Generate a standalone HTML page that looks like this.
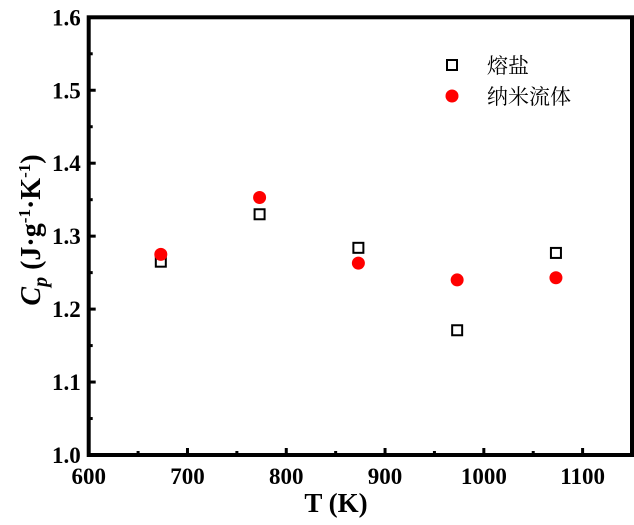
<!DOCTYPE html>
<html><head><meta charset="utf-8"><style>
body{margin:0;background:#fff;}
svg text{font-family:"Liberation Serif","Noto Serif CJK SC",serif;font-weight:bold;}
</style></head><body>
<svg id="chart" width="634" height="520" xmlns="http://www.w3.org/2000/svg"></svg>
<script>
const temps=[673,773,873,973,1073];
const moltenSalt=[1.265,1.330,1.284,1.171,1.277];
const nanofluid=[1.275,1.353,1.263,1.240,1.243];
const xTicks=[600,700,800,900,1000,1100];
const yTicks=[1.0,1.1,1.2,1.3,1.4,1.5,1.6];
const legendLabels=["熔盐","纳米流体"];

const L=88.7,R=632,T=17.3,B=455;
const xMin=600,xMax=1150,yMin=1.0,yMax=1.6;
const sx=v=>L+(v-xMin)/(xMax-xMin)*(R-L);
const sy=v=>B-(v-yMin)/(yMax-yMin)*(B-T);
const svg=document.getElementById('chart');
const NS='http://www.w3.org/2000/svg';
function mk(tag,attrs,parent){const e=document.createElementNS(NS,tag);for(const k in attrs)e.setAttribute(k,attrs[k]);(parent||svg).appendChild(e);return e;}

xTicks.forEach(v=>{
  const t=mk('line',{x1:sx(v),x2:sx(v),y1:B,y2:B-7,stroke:'#000','stroke-width':3});
  
  
  const m=mk('line',{x1:sx(v+50),x2:sx(v+50),y1:B,y2:B-4,stroke:'#000','stroke-width':3});
  
  
  const lb=mk('text',{x:sx(v),y:B+29,'text-anchor':'middle','font-size':23});
  lb.textContent=v;
  
  
});
yTicks.forEach(v=>{
  const t=mk('line',{x1:L,x2:L+7,y1:sy(v),y2:sy(v),stroke:'#000','stroke-width':3});
  
  
  if(v<1.55){
    const m=mk('line',{x1:L,x2:L+4,y1:sy(v+0.05),y2:sy(v+0.05),stroke:'#000','stroke-width':3});
    
    
  }
  const lb=mk('text',{x:L-8,y:sy(v)+8,'text-anchor':'end','font-size':23});
  lb.textContent=v.toFixed(1);
  
  
});
const frame=mk('rect',{x:L,y:T,width:R-L,height:B-T,fill:'none',stroke:'#000','stroke-width':4});



temps.forEach((t,i)=>{
  const s=mk('rect',{x:sx(t)-5,y:sy(moltenSalt[i])-5,width:10,height:10,fill:'none',stroke:'#000','stroke-width':2});
  
  
  const c=mk('circle',{cx:sx(t),cy:sy(nanofluid[i]),r:6.5,fill:'#f00'});
  
  
});

const ls=mk('rect',{x:447,y:60,width:10,height:10,fill:'none',stroke:'#000','stroke-width':2});


const lc=mk('circle',{cx:452,cy:96,r:6.5,fill:'#f00'});


[0,1].forEach(i=>{
  const lt=mk('text',{x:487,y:73+i*31,'font-size':21});
  lt.style.fontWeight='normal';
  lt.textContent=legendLabels[i];
  
  
});
</script>
<svg style="position:absolute;left:0;top:0" width="634" height="520">
  <text x="336" y="512" text-anchor="middle" font-size="27" font-family="Liberation Serif" font-weight="bold">T (K)</text>
  <text transform="translate(40,230) rotate(-90)" text-anchor="middle" font-size="28" font-family="Liberation Serif" font-weight="bold"><tspan font-style="italic">C</tspan><tspan font-style="italic" font-size="20" dy="7">p</tspan><tspan dy="-7"> (J·g</tspan><tspan font-size="17" dy="-10">-1</tspan><tspan dy="10">·K</tspan><tspan font-size="17" dy="-10">-1</tspan><tspan dy="10">)</tspan></text>
</svg>
</body></html>
